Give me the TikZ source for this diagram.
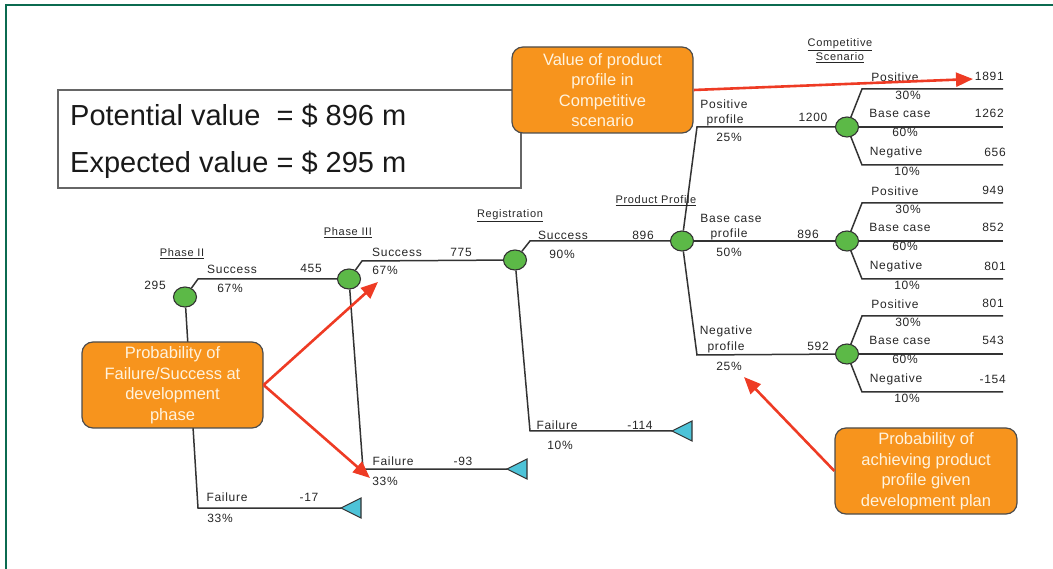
\documentclass[tikz,border=0pt]{standalone}
\usepackage{fontspec}
\setmainfont{Liberation Sans}
\newfontfamily\lblfont{Liberation Sans}[LetterSpace=6]
\usetikzlibrary{arrows.meta,shapes.geometric}
\definecolor{framec}{HTML}{0B6B50}
\definecolor{orng}{HTML}{F7941D}
\definecolor{ored}{HTML}{EE3B24}
\definecolor{gnode}{HTML}{5CB947}
\definecolor{tric}{HTML}{4DC3D8}
\definecolor{lnc}{HTML}{333333}
\definecolor{otext}{HTML}{FFF3DE}
\newcommand\lb[4]{\node[lbl] (#1) at (#2,#3) {#4};}
\newcommand\ulb[4]{\node[slbl] (#1) at (#2,#3) {\underline{#4}};}
\newcommand\termtriangle[3]{\coordinate (#1) at (#2,#3);
  \draw[termtri] (#1) -- ++(20,-10) -- ++(0,20) -- cycle;}
\begin{document}
\begin{tikzpicture}[x=1pt,y=-1pt,
  branch/.style={draw=lnc, line width=1.5pt},
  chance/.style={ellipse, draw=lnc, line width=1.1pt, fill=gnode, minimum width=23pt, minimum height=20pt, inner sep=0pt},
  termtri/.style={draw=lnc, line width=1.1pt, fill=tric, line join=miter},
  lbl/.style={font=\lblfont\fontsize{12}{13}\selectfont, inner sep=0pt, text=black!85},
  slbl/.style={font=\lblfont\fontsize{11}{12}\selectfont, inner sep=0pt, text=black!85},
  obox/.style={draw=black!70, line width=1.2pt, fill=orng, rounded corners=11pt, text=otext, align=center, font=\fontsize{16.5}{20.5}\selectfont, inner sep=0pt},
  redarrow/.style={draw=ored, line width=2.6pt, -{Triangle[length=17pt,width=14pt]}},
]
\useasboundingbox (0,0) rectangle (1053,569);
% outer frame
\draw[framec, line width=2pt] (6,569) -- (6,5) -- (1053,5);

% info rectangle
\node[draw=black!60, line width=1.6pt, minimum width=463pt, minimum height=98pt, inner sep=0pt] (info) at (289.5,139) {};
\node[font=\fontsize{29}{32}\selectfont, anchor=west, inner sep=0pt, text=black!90] (pv) at (70,116) {Potential value \ = \$ 896 m};
\node[font=\fontsize{29}{32}\selectfont, anchor=west, inner sep=0pt, text=black!90] (ev) at (70,165) {Expected value = \$ 295 m};

% chance nodes
\node[chance] (n1) at (185,297) {};
\node[chance] (n2) at (349,279) {};
\node[chance] (n3) at (515,260) {};
\node[chance] (n4) at (682,241) {};
\node[chance] (s1) at (847,127) {};
\node[chance] (s2) at (847,241) {};
\node[chance] (s3) at (847,354) {};

% kink coordinates
\coordinate (k1) at (198,279);
\coordinate (k1f) at (198,508);
\coordinate (k2) at (362,261);
\coordinate (k2f) at (363,469);
\coordinate (k3) at (530,241);
\coordinate (k3f) at (530,431);
\coordinate (k4p) at (697,127);
\coordinate (k4n) at (697,355);

% terminal triangles
\termtriangle{t1}{341}{508}
\termtriangle{t2}{507}{469}
\termtriangle{t3}{672}{431}

% branches
\draw[branch] (n1) -- (k1) -- (n2);
\draw[branch] (n1) -- (k1f) -- (t1);
\draw[branch] (n2) -- (k2) -- (n3);
\draw[branch] (n2) -- (k2f) -- (t2);
\draw[branch] (n3) -- (k3) -- (n4);
\draw[branch] (n3) -- (k3f) -- (t3);
\draw[branch] (n4) -- (k4p) -- (s1);
\draw[branch] (n4) -- (s2);
\draw[branch] (n4) -- (k4n) -- (s3);

% scenario branches
\foreach \s/\y in {s1/127,s2/241,s3/354}{
  \coordinate (\s u) at (862,\y-38);
  \coordinate (\s ue) at (1003,\y-38);
  \coordinate (\s me) at (1003,\y);
  \coordinate (\s d) at (862,\y+38);
  \coordinate (\s de) at (1003,\y+38);
  \draw[branch] (\s) -- (\s u) -- (\s ue);
  \draw[branch] (\s) -- (\s me);
  \draw[branch] (\s) -- (\s d) -- (\s de);
}

% main tree labels
\lb{v295}{155}{285}{295}
\ulb{ph2}{182}{254}{Phase II}
\lb{sc1}{232}{269}{Success}
\lb{p1}{230}{288}{67\%}
\lb{v455}{311}{268}{455}
\ulb{ph3}{348}{233}{Phase III}
\lb{sc2}{397}{252}{Success}
\lb{p2}{385}{270}{67\%}
\lb{v775}{461}{252}{775}
\ulb{reg}{510}{216}{Registration}
\lb{sc3}{563}{235}{Success}
\lb{p3}{562}{254}{90\%}
\lb{v896a}{643}{235}{896}
\ulb{pp}{656}{201}{Product Profile}
\lb{f1}{227}{497}{Failure}
\lb{vm17}{309}{497}{-17}
\lb{pf1}{220}{518}{33\%}
\lb{f2}{393}{461}{Failure}
\lb{vm93}{463}{461}{-93}
\lb{pf2}{385}{481}{33\%}
\lb{f3}{557}{425}{Failure}
\lb{vm114}{640}{425}{-114}
\lb{pf3}{560}{445}{10\%}
\lb{pp1}{724}{104}{Positive}
\lb{pp1b}{725}{120}{profile}
\lb{pp1c}{729}{137}{25\%}
\lb{v1200}{813}{117}{1200}
\lb{pp2}{731}{218}{Base case}
\lb{pp2b}{729}{234}{profile}
\lb{pp2c}{729}{252}{50\%}
\lb{v896b}{808}{234}{896}
\lb{pp3}{726}{331}{Negative}
\lb{pp3b}{726}{347}{profile}
\lb{pp3c}{729}{366}{25\%}
\lb{v592}{818}{346}{592}
\ulb{cs1}{840}{45}{Competitive}
\ulb{cs2}{840}{58}{Scenario}

% scenario labels
\foreach \s/\y/\a/\b/\c in {s1/127/1891/1262/656, s2/241/949/852/801, s3/354/801/543/-154}{
  \node[lbl] (\s pos) at (895,\y-50) {Positive};
  \node[lbl] (\s pp) at (908,\y-32) {30\%};
  \node[lbl, anchor=east] (\s pv) at (1004,\y-51) {\a};
  \node[lbl] (\s bc) at (900,\y-14) {Base case};
  \node[lbl] (\s bp) at (905,\y+5) {60\%};
  \node[lbl, anchor=east] (\s bv) at (1004,\y-14) {\b};
  \node[lbl] (\s neg) at (896,\y+25) {Negative};
  \node[lbl] (\s np) at (907,\y+44) {10\%};
  \node[lbl, anchor=east] (\s nv) at (1006,\y+25) {\c};
}

% orange boxes
\node[obox, minimum width=181pt, minimum height=86pt] (vbox) at (602.5,90) {Value of product\\profile in\\Competitive\\scenario};
\node[obox, minimum width=181pt, minimum height=86pt] (pbox) at (172.5,385) {Probability of\\Failure/Success at\\development\\phase};
\node[obox, minimum width=182pt, minimum height=86pt] (abox) at (926,471) {Probability of\\achieving product\\profile given\\development plan};

% red arrows
\coordinate (a1) at (973,79);
\coordinate (a2) at (378,282);
\coordinate (a3) at (370,478);
\coordinate (a4) at (744,377);
\draw[redarrow] (vbox.east) -- (a1);
\draw[redarrow] (pbox.east) -- (a2);
\draw[redarrow] (pbox.east) -- (a3);
\draw[redarrow] (abox.west) -- (a4);
\end{tikzpicture}
\end{document}
